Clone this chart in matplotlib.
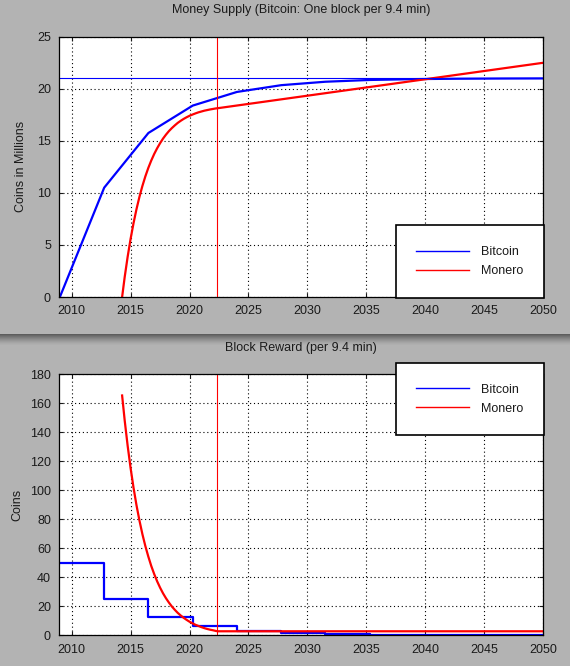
import numpy as np
import matplotlib
matplotlib.use("Agg")
import matplotlib.pyplot as plt
from matplotlib.patches import Rectangle

plt.rcParams['font.family'] = ['Liberation Sans', 'DejaVu Sans']
plt.rcParams['font.size'] = 9

# Bitcoin (one block per 9.4 min): halving dates and supply at each halving (millions)
btc_years = [2009.0, 2012.76, 2016.51, 2020.27, 2024.02, 2027.78, 2031.53,
             2035.29, 2039.04, 2042.80, 2046.55, 2050.0]
btc_supply = [0.0, 10.5, 15.75, 18.38, 19.69, 20.34, 20.67,
              20.84, 20.92, 20.96, 20.98, 20.99]
btc_reward = [50, 25, 12.5, 6.25, 3.125, 1.5625, 0.78,
              0.39, 0.2, 0.1, 0.05, 0.05]

# Monero
xmr_years = [2014.28, 2014.5, 2014.75, 2015.0, 2015.25, 2015.5, 2015.75, 2016.0,
             2016.25, 2016.5, 2016.75, 2017.0, 2017.25, 2017.5, 2017.75, 2018.0,
             2018.25, 2018.5, 2018.75, 2019.0, 2019.25, 2019.5, 2019.75, 2020.0,
             2020.25, 2020.5, 2020.75, 2021.0, 2021.25, 2021.5, 2021.75, 2022.0,
             2022.25, 2022.4, 2030.0, 2040.0, 2050.0]
xmr_supply = [0.0, 1.93, 3.87, 5.59, 7.10, 8.44, 9.62, 10.66,
              11.58, 12.39, 13.10, 13.73, 14.28, 14.77, 15.21, 15.59,
              15.93, 16.22, 16.48, 16.72, 16.92, 17.10, 17.26, 17.40,
              17.52, 17.63, 17.73, 17.81, 17.89, 17.95, 18.01, 18.06,
              18.11, 18.13, 19.33, 20.91, 22.49]
xmr_reward = [165.4, 148.1, 130.7, 115.3, 101.7, 89.7, 79.2, 69.8,
              61.6, 54.4, 47.9, 42.3, 37.3, 32.9, 29.0, 25.6,
              22.6, 19.9, 17.6, 15.5, 13.7, 12.1, 10.7, 9.4,
              8.3, 7.3, 6.5, 5.7, 5.0, 4.4, 3.9, 3.5,
              3.0, 2.82, 2.82, 2.82, 2.82]

btc_max = 21.0
tail_year = 2022.35

bg = '#b3b3b3'
txt = '#1a1a1a'

fig = plt.figure(figsize=(5.7, 6.66), dpi=100, facecolor=bg)

ax1 = fig.add_axes([0.104, 0.554, 0.849, 0.391])
ax2 = fig.add_axes([0.104, 0.046, 0.849, 0.392])

# shadow between the two panels
for i in range(11):
    y = 1 - (334 + i) / 666
    fig.add_artist(Rectangle((0, y - 1 / 666), 1, 1 / 666, transform=fig.transFigure,
                             facecolor='#303030', alpha=0.65 * (1 - i / 11) ** 1.4,
                             edgecolor='none'))

ax1.plot(btc_years, btc_supply, color='#0000ff', lw=1.6, label='Bitcoin')
ax1.plot(xmr_years, xmr_supply, color='#ff0000', lw=1.6, label='Monero')
ax1.axhline(btc_max, color='#0000ff', lw=0.8)
ax1.axvline(tail_year, color='#ff0000', lw=0.8)
ax1.set_ylim(0, 25)
ax1.set_yticks([0, 5, 10, 15, 20, 25])
ax1.set_ylabel('Coins in Millions', color=txt, labelpad=7)

ax2.plot(btc_years, btc_reward, color='#0000ff', lw=1.6, drawstyle='steps-post', label='Bitcoin')
ax2.plot(xmr_years, xmr_reward, color='#ff0000', lw=1.6, label='Monero')
ax2.axvline(tail_year, color='#ff0000', lw=0.8)
ax2.set_ylim(0, 180)
ax2.set_yticks(range(0, 181, 20))
ax2.set_ylabel('Coins', color=txt, labelpad=5)

for ax in (ax1, ax2):
    ax.set_facecolor('white')
    ax.set_xlim(2008.95, 2050)
    ax.set_xticks(range(2010, 2051, 5))
    ax.grid(True, color='black', linestyle=(0, (1, 2.5)), lw=0.8)
    ax.tick_params(direction='in', length=3, top=True, right=True, colors=txt,
                   labelsize=9, pad=6)
    for s in ax.spines.values():
        s.set_color('black')
        s.set_linewidth(0.9)

leg_kw = dict(fontsize=9, frameon=True, fancybox=False, edgecolor='black',
              framealpha=1, borderpad=1.65, handlelength=4.2, handletextpad=0.95,
              labelspacing=0.55, borderaxespad=0)
l1 = ax1.legend(loc='lower right', bbox_to_anchor=(543.5 / 570, 1 - 297.5 / 666),
                bbox_transform=fig.transFigure, **leg_kw)
l2 = ax2.legend(loc='upper right', bbox_to_anchor=(543.5 / 570, 1 - 363 / 666),
                bbox_transform=fig.transFigure, **leg_kw)
for l in (l1, l2):
    l.get_frame().set_linewidth(1.2)
    for h in l.get_lines():
        h.set_linewidth(1.0)
    for t in l.get_texts():
        t.set_color(txt)

fig.text(0.528, 1 - 10 / 666, 'Money Supply (Bitcoin: One block per 9.4 min)',
         ha='center', va='center', color=txt, fontsize=9)
fig.text(0.528, 1 - 348 / 666, 'Block Reward (per 9.4 min)',
         ha='center', va='center', color=txt, fontsize=9)

fig.savefig('out.png', dpi=100, facecolor=bg)
